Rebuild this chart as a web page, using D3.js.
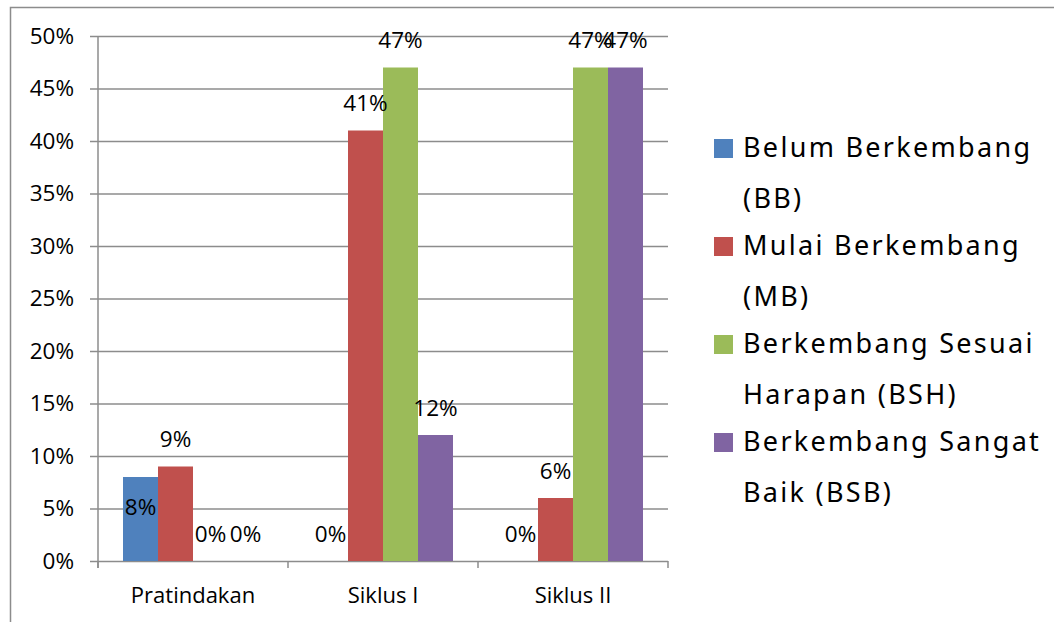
<!DOCTYPE html>
<meta charset="utf-8">
<script src="https://d3js.org/d3.v7.min.js"></script>
<style>
  body { margin: 0; background: #fff; }
  svg { display: block; }
</style>
<div id="chart"></div>
<script>
    // data
    const categories = ["Pratindakan", "Siklus I", "Siklus II"];
    const legendLines = [["Belum Berkembang", "(BB)"], ["Mulai Berkembang", "(MB)"], ["Berkembang Sesuai", "Harapan (BSH)"], ["Berkembang Sangat", "Baik (BSB)"]];
    const colors = ["#4f81bd", "#c0504d", "#9bbb59", "#8064a2"];
    const bb  = [8, 0, 0];
    const mb  = [9, 41, 6];
    const bsh = [0, 47, 47];
    const bsb = [0, 12, 47];
    const yTicks = [0, 5, 10, 15, 20, 25, 30, 35, 40, 45, 50];

    const values = [bb, mb, bsh, bsb];

    const W = 1054, H = 622;
    const margin = {top: 36, left: 98, right: 386, bottom: 61};
    const width = W - margin.left - margin.right,
          height = H - margin.top - margin.bottom;

    const svg = d3.select("#chart").append("svg")
        .attr("width", W).attr("height", H);

    // frame
    svg.append("path")
        .attr("d", `M10.5,${H + 5} V7.5 H${W + 5}`)
        .attr("fill", "none").attr("stroke", "#8c8c8c").attr("stroke-width", 1.5);

    const g = svg.append("g").attr("transform", `translate(${margin.left},${margin.top})`);

    const x0 = d3.scaleBand().domain(categories).range([0, width]);
    // 4 bars of ~35px in a 190px group, 25px free each side
    const x1 = d3.scaleBand().domain(d3.range(4)).range([25, x0.bandwidth() - 25]);
    const y = d3.scaleLinear().domain([0, 50]).range([height, 0]);

    const fontAxis = "'Open Sans', sans-serif";

    // y gridlines + axis
    const yAxis = g.append("g")
        .call(d3.axisLeft(y).tickValues(yTicks).tickFormat(d => d + "%").tickSize(8).tickPadding(16));
    yAxis.select(".domain").remove();
    yAxis.selectAll(".tick line").attr("x2", width).attr("x1", -8)
        .attr("stroke", "#8c8c8c").attr("stroke-width", 1.5);
    yAxis.selectAll("text").attr("font-family", fontAxis).attr("font-size", 22.5).attr("fill", "#000");

    g.append("line").attr("x1", 0).attr("x2", 0).attr("y1", 0).attr("y2", height + 7)
        .attr("stroke", "#8c8c8c").attr("stroke-width", 1.5);

    // x axis
    const xAxis = g.append("g").attr("transform", `translate(0,${height})`)
        .call(d3.axisBottom(x0).tickSize(0).tickPadding(26));
    xAxis.select(".domain").remove();
    xAxis.selectAll("text").attr("font-family", fontAxis).attr("font-size", 22).attr("fill", "#000");
    g.append("g").selectAll("line").data(d3.range(categories.length + 1)).join("line")
        .attr("x1", i => i * x0.bandwidth()).attr("x2", i => i * x0.bandwidth())
        .attr("y1", height).attr("y2", height + 7)
        .attr("stroke", "#8c8c8c").attr("stroke-width", 1.5);

    // bars
    const flat = [];
    values.forEach((arr, s) => arr.forEach((v, c) => flat.push({s, c, v})));
    g.append("g").selectAll("rect").data(flat).join("rect")
        .attr("x", d => x0(categories[d.c]) + x1(d.s))
        .attr("width", x1.bandwidth())
        .attr("y", d => y(d.v))
        .attr("height", d => height - y(d.v))
        .attr("fill", d => colors[d.s]);

    // labels (first label sits inside its bar, as in the original)
    g.append("g").selectAll("text").data(flat).join("text")
        .attr("x", d => x0(categories[d.c]) + x1(d.s) + x1.bandwidth() / 2)
        .attr("y", d => (d.s === 0 && d.c === 0) ? y(d.v) + 30 : y(d.v) - 27)
        .attr("dy", "0.35em")
        .attr("text-anchor", "middle")
        .attr("font-family", fontAxis).attr("font-size", 22.5).attr("fill", "#000")
        .text(d => d.v + "%");

    // legend
    const leg = svg.append("g").attr("transform", "translate(714,0)");
    const items = leg.selectAll("g").data(legendLines).join("g")
        .attr("transform", (d, i) => `translate(0,${148 + i * 98})`);
    items.append("rect").attr("x", 0).attr("y", -9).attr("width", 19).attr("height", 19)
        .attr("fill", (d, i) => colors[i]);
    items.selectAll("text").data(d => d).join("text")
        .attr("x", 29).attr("y", (d, j) => j * 51)
        .attr("dy", "0.35em")
        .attr("font-family", "'Noto Sans', sans-serif").attr("font-size", 27)
        .attr("letter-spacing", 2.3)
        .attr("fill", "#000")
        .text(d => d);
</script>
